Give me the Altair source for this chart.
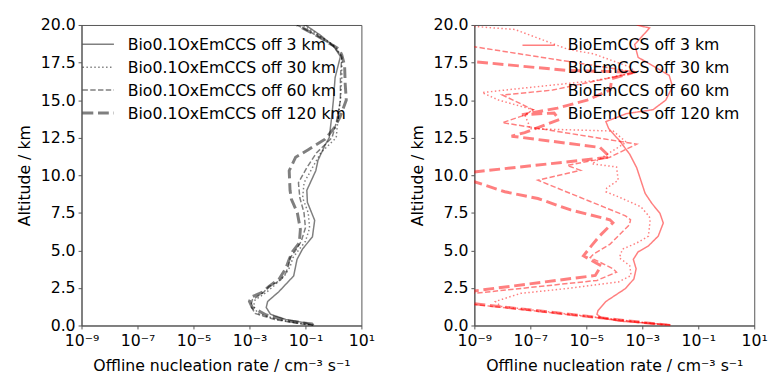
import altair as alt
import pandas as pd

# ---- Profiles: altitude (km) and log10 of the offline nucleation rate (cm^-3 s^-1) ----
# Left panel: Bio0.1OxEmCCS sensitivity runs
alt_ox_3 = [0.0, 0.18, 0.4, 0.75, 1.2, 1.6, 2.25, 3.3, 4.4, 5.1, 5.9, 7.0, 8.2, 9.0, 10.3,
            11.0, 12.0, 12.5, 13.9, 15.0, 16.5, 17.9, 18.6, 19.3, 20.0]
exp_ox_3 = [-0.72, -1.0, -1.7, -2.25, -2.4, -2.35, -1.95, -1.42, -1.3, -1.1, -0.75, -0.67, -0.93, -0.95, -0.63,
            -0.55, -0.3, -0.15, -0.06, 0.0, 0.06, 0.25, 0.0, -0.45, -1.0]

alt_ox_30 = [0.0, 0.15, 0.4, 0.8, 1.3, 1.7, 2.2, 2.6, 3.3, 3.9, 4.5, 5.0, 5.6, 6.5, 7.5, 8.5, 9.5,
             10.5, 11.5, 12.5, 13.5, 15.0, 16.5, 17.9, 18.6, 19.3, 20.0]
exp_ox_30 = [-0.72, -1.2, -2.0, -2.7, -2.85, -2.8, -2.4, -2.15, -1.75, -1.55, -1.45, -1.25, -1.0, -0.85, -0.9, -1.1, -1.05,
             -0.75, -0.45, 0.1, 0.15, 0.25, 0.3, 0.3, 0.05, -0.5, -1.1]

alt_ox_60 = [0.0, 0.15, 0.4, 0.8, 1.3, 1.7, 2.2, 2.6, 3.0, 3.5, 4.0, 4.5, 5.0, 5.6, 6.5, 7.5, 8.5, 9.5,
             10.5, 11.5, 12.5, 13.5, 15.0, 16.5, 17.9, 18.6, 19.3, 20.0]
exp_ox_60 = [-0.72, -1.3, -2.1, -2.8, -2.95, -2.9, -2.5, -2.3, -1.9, -1.7, -1.6, -1.55, -1.35, -1.15, -1.0, -1.05, -1.2, -1.25,
             -0.95, -0.6, -0.05, 0.1, 0.25, 0.25, 0.3, 0.0, -0.6, -1.3]

alt_ox_120 = [0.0, 0.1, 0.3, 0.7, 1.2, 1.6, 1.9, 2.2, 2.6, 3.1, 3.8, 4.4, 4.9, 5.5, 6.4, 7.5, 8.4, 9.0,
              10.3, 11.2, 11.7, 12.4, 13.2, 13.9, 15.0, 16.1, 17.3, 18.0, 18.4, 19.3, 20.0]
exp_ox_120 = [-0.72, -0.77, -1.6, -2.4, -2.9, -3.0, -2.93, -2.55, -2.3, -1.94, -1.7, -1.58, -1.47, -1.22, -1.18, -1.29, -1.5, -1.55,
              -1.58, -1.35, -0.9, -0.3, 0.05, 0.24, 0.46, 0.42, 0.4, 0.3, 0.2, -0.6, -1.3]

# Right panel: BioEmCCS sensitivity runs (values below 1e-9 fall off the axis)
alt_bio_3 = [0.0, 0.05, 0.29, 0.5, 0.75, 1.0, 1.6, 2.46, 3.1, 3.77, 4.4, 4.9, 5.3, 5.95, 6.82, 7.47, 8.13,
             8.8, 9.65, 10.5, 11.4, 12.27, 13.1, 13.57, 14.1, 14.36, 15.0, 15.9, 16.65, 17.85, 18.7, 19.8, 20.0]
exp_bio_3 = [-2.0, -2.05, -3.8, -4.45, -4.62, -4.58, -4.3, -3.6, -3.3, -3.22, -3.32, -3.15, -2.78, -2.43, -2.25, -2.37, -2.66,
             -2.9, -3.05, -3.2, -3.45, -3.8, -4.2, -4.3, -3.57, -2.62, -2.16, -1.92, -2.04, -3.15, -3.27, -2.74, -3.2]

alt_bio_30 = [0.0, 1.27, 1.6, 1.75, 2.14, 2.46, 2.9, 3.33, 3.99, 4.5, 5.08, 5.5, 5.95, 7.0, 7.25, 7.9, 8.56,
              8.9, 9.15, 9.67, 10.55, 10.76, 11.4, 12.2, 12.94, 13.1, 13.27, 14.03, 14.36, 15.0, 15.5, 15.67,
              16.3, 16.85, 17.2, 18.07, 18.4, 19.7, 19.9, 19.95]
exp_bio_30 = [-2.0, -8.05, -8.25, -8.0, -7.34, -5.7, -3.85, -3.4, -3.45, -3.82, -3.71, -3.19, -2.78, -2.72, -2.75, -3.05, -3.85,
              -4.3, -4.27, -3.86, -3.92, -4.8, -4.25, -3.57, -4.04, -7.05, -7.03, -7.2, -6.9, -8.13, -8.72, -7.9,
              -4.68, -3.25, -3.44, -4.73, -5.68, -7.55, -9.0, -10.5]

alt_bio_60 = [0.0, 1.4, 1.6, 2.0, 2.14, 3.0, 3.55, 3.77, 4.53, 4.75, 5.4, 6.7, 7.04, 7.3, 9.67, 10.33,
              10.65, 11.2, 12.07, 13.5, 14.0, 14.36, 15.34, 15.67, 16.86, 18.55, 18.7]
exp_bio_60 = [-2.0, -9.0, -11.0, -11.0, -9.0, -4.62, -3.92, -4.04, -4.86, -4.74, -4.16, -3.46, -3.42, -3.6, -6.73, -5.21,
              -5.68, -4.16, -3.2, -8.0, -7.2, -6.9, -8.0, -6.2, -3.2, -9.0, -10.5]

alt_bio_120 = [0.0, 1.45, 1.6, 2.1, 2.3, 3.33, 3.97, 4.64, 5.3, 5.95, 6.84, 7.04, 7.69, 8.45, 8.9, 9.57, 9.7,
               10.0, 10.22, 11.2, 11.53, 11.85, 12.6, 12.84, 13.7, 14.14, 14.03, 14.47, 15.0, 15.67, 16.43,
               16.86, 16.97, 17.55, 17.7]
exp_bio_120 = [-2.0, -9.0, -11.0, -11.0, -9.0, -4.68, -4.47, -5.1, -4.82, -4.53, -4.05, -4.16, -5.56, -6.73, -7.91, -9.0, -11.0,
               -11.0, -9.0, -4.16, -4.33, -4.51, -7.67, -7.2, -5.97, -6.15, -7.3, -6.03, -4.97, -4.15, -4.09,
               -3.27, -5.68, -8.95, -10.5]

left_labels = ["Bio0.1OxEmCCS off 3 km", "Bio0.1OxEmCCS off 30 km",
               "Bio0.1OxEmCCS off 60 km", "Bio0.1OxEmCCS off 120 km"]
right_labels = ["BioEmCCS off 3 km", "BioEmCCS off 30 km",
                "BioEmCCS off 60 km", "BioEmCCS off 120 km"]

tick_exps = [-9, -7, -5, -3, -1, 1]
tick_texts = ["10⁻⁹", "10⁻⁷", "10⁻⁵", "10⁻³", "10⁻¹", "10¹"]
alt_ticks = [0, 2.5, 5, 7.5, 10, 12.5, 15, 17.5, 20]

# ---- Styling ----
FONT = "DejaVu Sans"
FS = 16
W, H = 285, 306
THIN, THICK = 1.5, 3.0
styles = [  # (dash, width) for the 3, 30, 60 and 120 km runs
    ([1, 0], THIN),
    ([1.5, 2.5], THIN),
    ([5.5, 2.4], THIN),
    ([11, 4.8], THICK),
]

tick_vals = [10.0 ** e for e in tick_exps]
label_expr = ""
for v, t in zip(tick_vals[:-1], tick_texts[:-1]):
    label_expr += f"datum.value < {v * 3:g} ? '{t}' : "
label_expr += f"'{tick_texts[-1]}'"

x_scale = alt.Scale(type="log", domain=[1e-9, 10])
y_scale = alt.Scale(domain=[0, 20], nice=False, zero=False)
x_axis = alt.Axis(values=tick_vals, labelExpr=label_expr,
                  title="Offline nucleation rate / cm⁻³ s⁻¹",
                  labelFlush=False, labelOverlap=False)
y_axis = alt.Axis(values=alt_ticks, format=".1f", title="Altitude / km")


def profile(alts, exps, color, dash, width):
    df = pd.DataFrame({"alt": alts, "rate": [10.0 ** e for e in exps],
                       "i": list(range(len(alts)))})
    return alt.Chart(df).mark_line(
        clip=True, color=color, opacity=0.5, strokeWidth=width, strokeDash=dash
    ).encode(
        x=alt.X("rate:Q", scale=x_scale, axis=x_axis),
        y=alt.Y("alt:Q", scale=y_scale, axis=y_axis),
        order="i:Q",
    )


def legend_entry(label, x0, y):
    df = pd.DataFrame({"label": [label]})
    return alt.Chart(df).mark_text(
        align="left", baseline="middle", font=FONT, fontSize=FS, color="black"
    ).encode(text="label:N", x=alt.value(x0), y=alt.value(y))


def legend_handle(color, dash, width, x0, x1, y):
    df = pd.DataFrame({"k": [0]})
    return alt.Chart(df).mark_rule(
        color=color, opacity=0.5, strokeWidth=width, strokeDash=dash
    ).encode(x=alt.value(x0), x2=alt.value(x1), y=alt.value(y))


left_series = [(alt_ox_3, exp_ox_3), (alt_ox_30, exp_ox_30),
               (alt_ox_60, exp_ox_60), (alt_ox_120, exp_ox_120)]
right_series = [(alt_bio_3, exp_bio_3), (alt_bio_30, exp_bio_30),
                (alt_bio_60, exp_bio_60), (alt_bio_120, exp_bio_120)]

LEG_DY = 23.3
left_layers = []
for (a, e), (dash, w) in zip(left_series, styles):
    left_layers.append(profile(a, e, "black", dash, w))
for k, (dash, w) in enumerate(styles):
    left_layers.append(legend_handle("black", dash, w, 1, 33, 19.7 + LEG_DY * k))
for k, lab in enumerate(left_labels):
    left_layers.append(legend_entry(lab, 47, 20.7 + LEG_DY * k))

right_layers = []
for (a, e), (dash, w) in zip(right_series, styles):
    right_layers.append(profile(a, e, "red", dash, w))
right_layers.append(legend_handle("red", styles[0][0], THIN, 49, 82, 20.7))
for k, lab in enumerate(right_labels):
    right_layers.append(legend_entry(lab, 95, 20.7 + LEG_DY * k))

left = alt.layer(*left_layers).properties(width=W, height=H)
right = alt.layer(*right_layers).properties(width=W, height=H)

chart = alt.hconcat(left, right, spacing=34).properties(
    padding={"left": 16, "top": 13, "right": 0, "bottom": 0}
).configure(font=FONT).configure_view(
    stroke="#555", strokeWidth=1
).configure_axis(
    grid=False, domainColor="#555", tickColor="#555", tickSize=3.5,
    labelFont=FONT, titleFont=FONT, labelFontSize=FS, titleFontSize=FS,
    labelColor="black", titleColor="black", titleFontWeight="normal",
    labelPadding=3,
).configure_axisX(titlePadding=9, labelPadding=4).configure_axisY(titlePadding=8)

chart.save("out.html", embed_options={"renderer": "svg", "actions": False})
